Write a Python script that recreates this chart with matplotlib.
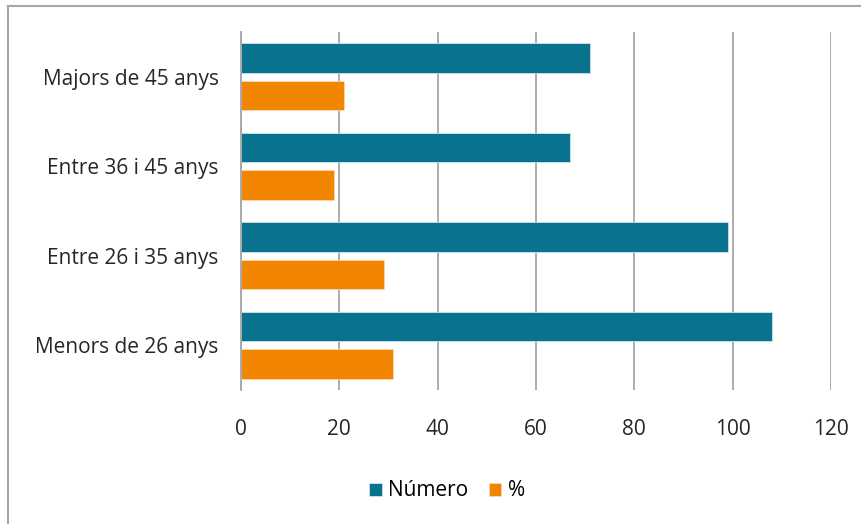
import matplotlib.pyplot as plt
from matplotlib.lines import Line2D
import numpy as np

# Data
categories = ["Menors de 26 anys", "Entre 26 i 35 anys", "Entre 36 i 45 anys", "Majors de 45 anys"]
numero = [108, 99, 67, 71]
percent = [31, 29, 19, 21]
series_names = ["Número", "%"]
x_ticks = [0, 20, 40, 60, 80, 100, 120]

teal = "#08728F"
orange = "#F28500"
grid_gray = "#A6A6A6"

plt.rcParams['font.family'] = ['Open Sans', 'DejaVu Sans']

fig = plt.figure(figsize=(8.62, 5.24), dpi=100)
ax = fig.add_axes([241 / 862, 1 - 390 / 524, 590 / 862, 358 / 524])

y = np.arange(len(categories))
h = 0.33
off = 0.212
ax.barh(y + off, numero, height=h, color=teal, edgecolor="#CDE3EA", linewidth=0.6,
        label=series_names[0], zorder=3)
ax.barh(y - off, percent, height=h, color=orange, edgecolor="#FBD9B0", linewidth=0.6,
        label=series_names[1], zorder=3)

ax.set_xlim(0, 120)
ax.set_ylim(-0.5, len(categories) - 0.5)
ax.set_xticks(x_ticks)
ax.set_xticklabels([str(t) for t in x_ticks], fontsize=15, color="#262626")
ax.set_yticks(y)
ax.set_yticklabels(categories, fontsize=15, color="#262626")
ax.tick_params(axis='x', length=0, pad=21)
ax.tick_params(axis='y', length=0, pad=16)

ax.grid(axis='x', color=grid_gray, linewidth=1.3, zorder=0)
for s in ["top", "right", "bottom"]:
    ax.spines[s].set_visible(False)
ax.spines["left"].set_color(grid_gray)
ax.spines["left"].set_linewidth(1.3)
ax.spines["left"].set_zorder(4)

fig.legend(loc="center", bbox_to_anchor=(447 / 862, 1 - 491 / 524), ncol=2,
           frameon=False, fontsize=15, handlelength=0.6, handleheight=0.6,
           handletextpad=0.3, columnspacing=1.0)

# outer chart-area border (only top and left visible in the crop)
fig.add_artist(Line2D([8 / 862, 1], [1 - 6 / 524, 1 - 6 / 524], color=grid_gray,
                      linewidth=1.5, transform=fig.transFigure))
fig.add_artist(Line2D([8 / 862, 8 / 862], [0, 1 - 6 / 524], color=grid_gray,
                      linewidth=1.5, transform=fig.transFigure))

fig.savefig("out.png", dpi=100)
